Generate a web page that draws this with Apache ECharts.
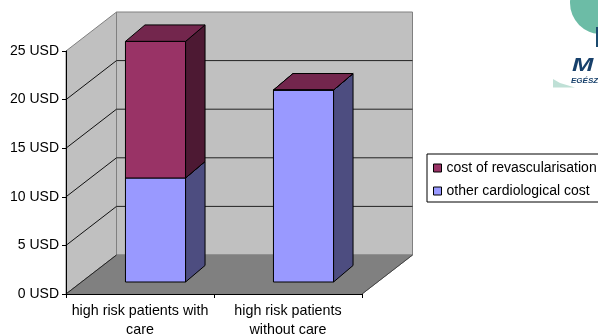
<!DOCTYPE html>
<html>
<head>
<meta charset="utf-8">
<style>
  html, body { margin: 0; padding: 0; background: #fff; }
  #myChart { width: 598px; height: 336px; }
</style>
</head>
<body>
<div id="myChart"></div>
<script src="https://cdn.jsdelivr.net/npm/echarts@6/dist/echarts.min.js"></script>
<script>
// values
const categories = ["high risk patients with\ncare", "high risk patients\nwithout care"];
const otherCost = [10.7, 19.75];
const revascCost = [14.05, 0];
const yTicks = [0, 5, 10, 15, 20, 25];

const FONT = "Liberation Sans";
// fake 3d depth in px
const WALL = [50.5, -39];
const FRONT = [15.5, -12];
const BAR = [19.5, -16.5];

function poly(pts, fill, stroke) {
  return {
    type: "polygon",
    shape: { points: pts },
    style: { fill: fill, stroke: stroke || "#000", lineWidth: 1 }
  };
}
function line(a, b, color) {
  return {
    type: "line",
    shape: { x1: a[0], y1: a[1], x2: b[0], y2: b[1] },
    style: { stroke: color, lineWidth: 1 }
  };
}
function shift(p, d) {
  return [p[0] + d[0], p[1] + d[1]];
}

// left wall, back wall and floor
function renderWalls(params, api) {
  const p00 = api.coord([0, 0]);
  const left = p00[0] - api.size([1, 0])[0] / 2;
  const right = left + api.size([1, 0])[0] * categories.length;
  const bottom = p00[1];
  const top = api.coord([0, 25])[1];
  const a = [left, bottom], b = [left, top], c = [right, bottom];
  return {
    type: "group",
    children: [
      poly([a, b, shift(b, WALL), shift(a, WALL)], "#c0c0c0", "#808080"),
      poly([shift(a, WALL), shift(b, WALL), shift([right, top], WALL), shift(c, WALL)], "#c0c0c0", "#808080"),
      poly([a, shift(a, WALL), shift(c, WALL), c], "#808080", "#808080"),
      line(a, shift(a, WALL), "#222"),
      line(c, shift(c, WALL), "#444")
    ]
  };
}

function renderGridLine(params, api) {
  const size = api.size([1, 0])[0];
  const y = api.coord([0, api.value(0)])[1];
  const left = api.coord([0, 0])[0] - size / 2;
  const a = [left, y], b = shift(a, WALL);
  const c = [b[0] + size * categories.length, b[1]];
  return { type: "group", children: [line(a, b, "#111"), line(b, c, "#222")] };
}

// one stacked box: value(0)=category, value(1)=base, value(2)=top
function boxRenderer(front, top, side) {
  return function (params, api) {
    const w = api.size([1, 0])[0] * 0.406;
    const base = shift(api.coord([api.value(0), api.value(1)]), FRONT);
    const head = shift(api.coord([api.value(0), api.value(2)]), FRONT);
    const x0 = base[0] - w / 2, x1 = base[0] + w / 2;
    const bl = [x0, base[1]], br = [x1, base[1]], tl = [x0, head[1]], tr = [x1, head[1]];
    return {
      type: "group",
      children: [
        poly([br, tr, shift(tr, BAR), shift(br, BAR)], side),
        poly([tl, tr, shift(tr, BAR), shift(tl, BAR)], top),
        poly([bl, br, tr, tl], front)
      ]
    };
  };
}

const chart = echarts.init(document.getElementById("myChart"), null, { renderer: "canvas" });
chart.setOption({
  animation: false,
  backgroundColor: "#fff",
  textStyle: { fontFamily: FONT },
  grid: { left: 66, top: 51, width: 296, height: 243, outerBoundsMode: "none" },
  xAxis: {
    type: "category",
    data: categories,
    z: 10,
    axisLine: { lineStyle: { color: "#000" } },
    axisTick: { show: true, length: 4, lineStyle: { color: "#000" } },
    axisLabel: { color: "#000", fontSize: 14.3, fontFamily: FONT, margin: 8, lineHeight: 19, interval: 0, hideOverlap: false }
  },
  yAxis: {
    type: "value",
    min: 0,
    max: 25,
    interval: 5,
    z: 10,
    splitLine: { show: false },
    axisLine: { show: true, lineStyle: { color: "#000" } },
    axisTick: { show: true, length: 4, lineStyle: { color: "#000" } },
    axisLabel: { color: "#000", fontSize: 14, fontFamily: FONT, margin: 7, formatter: "{value} USD" }
  },
  legend: {
    orient: "vertical",
    left: 427,
    top: 154,
    data: ["cost of revascularisation", "other cardiological cost"],
    icon: "rect",
    itemWidth: 8,
    itemHeight: 8,
    itemGap: 9,
    padding: [7, 8, 4, 6],
    borderColor: "#000",
    borderWidth: 1,
    itemStyle: { borderColor: "#000", borderWidth: 1 },
    textStyle: { color: "#000", fontSize: 14, fontFamily: FONT },
    selectedMode: false
  },
  series: [
    {
      type: "custom", name: "walls", silent: true, clip: false, z: 1,
      renderItem: renderWalls, data: [[0]], encode: { x: 0 }
    },
    {
      type: "custom", name: "gridlines", silent: true, clip: false, z: 2,
      renderItem: renderGridLine, data: yTicks.slice(1, -1).map(v => [v])
    },
    {
      type: "custom", name: "other cardiological cost", silent: true, clip: false, z: 3,
      itemStyle: { color: "#9999ff" },
      renderItem: boxRenderer("#9999ff", "#73264d", "#4d4d80"),
      encode: { x: 0, y: [1, 2] },
      data: otherCost.map((v, i) => [i, 0, v])
    },
    {
      type: "custom", name: "cost of revascularisation", silent: true, clip: false, z: 4,
      itemStyle: { color: "#993366" },
      renderItem: boxRenderer("#993366", "#73264d", "#4d1933"),
      encode: { x: 0, y: [1, 2] },
      data: revascCost.map((v, i) => [i, otherCost[i], otherCost[i] + v])
    }
  ],
  // logo fragment at the top right corner
  graphic: [
    { type: "circle", shape: { cx: 601, cy: 3, r: 31 }, style: { fill: "#6cbca6" }, silent: true },
    { type: "rect", shape: { x: 596, y: 27, width: 2, height: 20 }, style: { fill: "#1b4a6e" }, silent: true },
    {
      type: "polygon", silent: true,
      shape: { points: [[553, 79], [560, 83], [575, 87.5], [553, 87.5]] },
      style: { fill: "#bfe0d6" }
    },
    {
      type: "text", x: 572, y: 56, scaleX: 1.35, silent: true,
      style: { text: "M", fill: "#17406b", font: "italic bold 19px 'Liberation Sans'" }
    },
    {
      type: "text", x: 571, y: 77, silent: true,
      style: { text: "EGÉSZ", fill: "#17406b", font: "italic bold 8px 'Liberation Sans'" }
    }
  ]
});
</script>
</body>
</html>
